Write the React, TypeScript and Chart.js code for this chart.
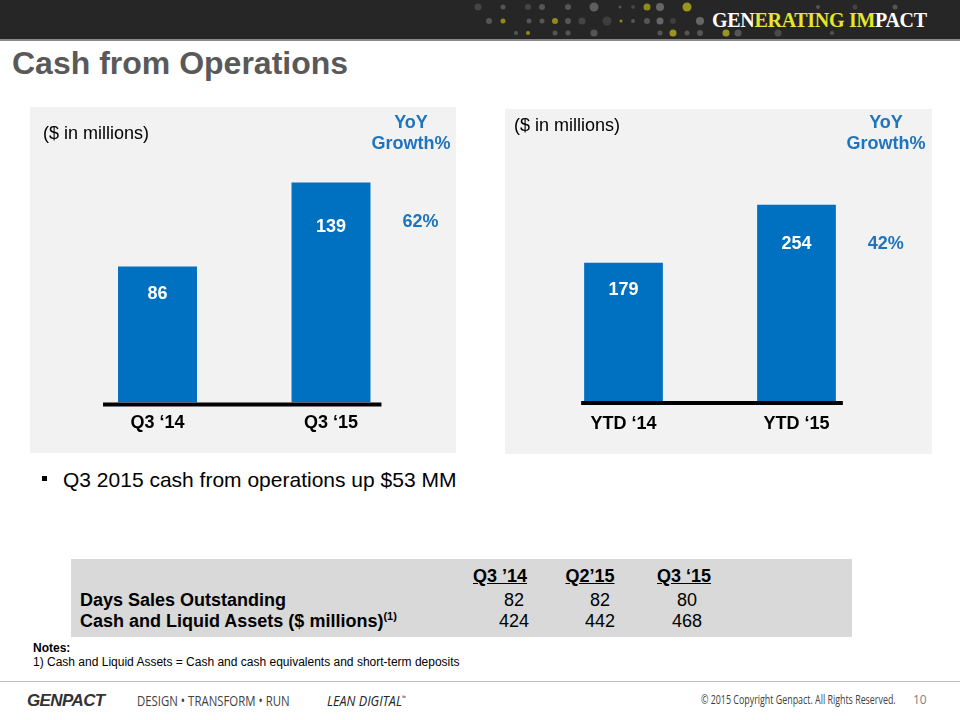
import React, { useEffect, useRef } from "react";
import { Chart, registerables } from "chart.js";

Chart.register(...registerables);

// ---------- data ----------
const quarterLabels = ["Q3 ‘14", "Q3 ‘15"];
const quarterCash = [86, 139];
const quarterGrowth = "62%";

const ytdLabels = ["YTD ‘14", "YTD ‘15"];
const ytdCash = [179, 254];
const ytdGrowth = "42%";

const tableColumns = ["Q3 ’14", "Q2’15", "Q3 ‘15"];
const daysSalesOutstanding = [82, 82, 80];
const cashLiquidAssets = [424, 442, 468];

// ---------- style ----------
const BLUE = "#0070C0";
const TEXT_BLUE = "#1F74BE";
const FONT = "'Liberation Sans', Arial, Helvetica, sans-serif";

const barDecorPlugin = {
  id: "barDecor",
  afterDatasetsDraw(chart: any, _args: any, opts: any) {
    const { ctx } = chart;
    const meta = chart.getDatasetMeta(0);
    const bars = meta.data;
    if (!bars.length) return;
    const zeroY = chart.scales.y.getPixelForValue(0);
    const first = bars[0];
    const last = bars[bars.length - 1];
    ctx.save();
    ctx.strokeStyle = "#000";
    ctx.lineWidth = 4;
    ctx.beginPath();
    ctx.moveTo(first.x - first.width / 2 - opts.extendLeft, zeroY + 2);
    ctx.lineTo(last.x + last.width / 2 + opts.extendRight, zeroY + 2);
    ctx.stroke();

    ctx.font = `bold 18px ${FONT}`;
    ctx.textAlign = "center";
    ctx.textBaseline = "middle";
    ctx.fillStyle = "#ffffff";
    const values = chart.data.datasets[0].data;
    bars.forEach((bar: any, i: number) => {
      const h = bar.base - bar.y;
      ctx.fillText(String(values[i]), bar.x, bar.y + h * 0.2);
    });
    ctx.fillStyle = TEXT_BLUE;
    ctx.fillText(opts.growth, last.x + last.width / 2 + 50, last.y + 39);
    ctx.restore();
  },
};

type BarPanelProps = {
  labels: string[];
  values: number[];
  growth: string;
  width: number;
  height: number;
  yMax: number;
  padding: { left: number; right: number; top: number; bottom: number };
  tickPadding: number;
  extendLeft: number;
  extendRight: number;
};

function BarPanel(p: BarPanelProps) {
  const ref = useRef<HTMLCanvasElement | null>(null);
  useEffect(() => {
    if (!ref.current) return;
    const chart = new Chart(ref.current, {
      type: "bar",
      data: {
        labels: p.labels,
        datasets: [
          {
            data: p.values,
            backgroundColor: BLUE,
            borderWidth: 0,
            barPercentage: 0.455,
            categoryPercentage: 1,
          },
        ],
      },
      options: {
        responsive: false,
        animation: false,
        devicePixelRatio: 1,
        layout: { padding: p.padding },
        plugins: {
          legend: { display: false },
          tooltip: { enabled: false },
          barDecor: {
            growth: p.growth,
            extendLeft: p.extendLeft,
            extendRight: p.extendRight,
          },
        } as any,
        scales: {
          x: {
            grid: { display: false, drawTicks: false },
            border: { display: false },
            ticks: {
              color: "#000",
              padding: p.tickPadding,
              font: { family: FONT, size: 18, weight: "bold" },
              maxRotation: 0,
              autoSkip: false,
            },
          },
          y: {
            display: false,
            min: 0,
            max: p.yMax,
          },
        },
      },
      plugins: [barDecorPlugin],
    });
    return () => chart.destroy();
  }, []);
  return (
    <canvas
      ref={ref}
      width={p.width}
      height={p.height}
      style={{ position: "absolute", left: 0, top: 0, width: p.width, height: p.height }}
    />
  );
}

const abs = (style: React.CSSProperties): React.CSSProperties => ({
  position: "absolute",
  whiteSpace: "nowrap",
  ...style,
});

const headerDots: [number, number, number, string][] = [
  [478, 7, 3.5, "#444"], [503, 7, 2.5, "#555"], [528, 7, 3, "#444"], [542, 7, 3, "#555"],
  [568, 7, 3, "#555"], [594, 7, 4.5, "#5e5e5e"], [620, 7, 1.5, "#555"], [633, 7, 2, "#444"],
  [647, 7, 3.5, "#8f8a1c"], [660, 7, 4, "#666"], [687, 7, 4.5, "#9a951c"], [818, 7, 2, "#555"],
  [855, 7, 2.5, "#444"], [895, 7, 2.5, "#555"],
  [489, 21, 3, "#555"], [503, 21, 2.5, "#8f8a1c"], [529, 21, 2.5, "#555"], [542, 21, 2.5, "#555"],
  [555, 21, 3, "#8f8a1c"], [568, 21, 3, "#555"], [582, 21, 3.5, "#444"], [607, 21, 4.5, "#3e3e3e"],
  [621, 21, 1.5, "#8f8a1c"], [633, 21, 2, "#555"], [647, 21, 3, "#555"], [660, 21, 3.5, "#666"],
  [673, 21, 3, "#3e3e3e"], [700, 21, 4, "#666"],
  [516, 33, 2, "#555"], [528, 33, 2, "#8f8a1c"], [555, 33, 2.5, "#555"], [568, 33, 2.5, "#555"],
  [594, 33, 3.5, "#555"], [660, 33, 2.5, "#555"], [673, 33, 3.5, "#9a951c"], [687, 33, 2.5, "#555"],
  [700, 33, 3, "#555"], [726, 33, 3.5, "#9a951c"], [738, 33, 3.5, "#555"], [778, 33, 3.5, "#4a4a4a"],
  [832, 33, 2, "#555"],
];

export default function App() {
  const tableColCenters = [500, 590, 684];
  const tableValCenters = [514, 600, 687];
  return (
    <div
      style={{
        position: "absolute",
        left: 0,
        top: 0,
        width: 960,
        height: 720,
        overflow: "hidden",
        background: "#ffffff",
        fontFamily: FONT,
        color: "#000",
      }}
    >
      {/* header bar */}
      <div style={abs({ left: 0, top: 0, width: 960, height: 39, background: "#262626", borderBottom: "2px solid #8a8a8a" })} />
      <svg width={960} height={40} style={{ position: "absolute", left: 0, top: 0 }}>
        {headerDots.map(([x, y, r, c], i) => (
          <circle key={i} cx={x} cy={y} r={r} fill={c} />
        ))}
      </svg>
      <div
        style={abs({
          left: 712,
          top: 10,
          fontFamily: "'Liberation Serif', 'DejaVu Serif', serif",
          fontWeight: "bold",
          fontSize: 20,
          lineHeight: "20px",
          color: "#ffffff",
          letterSpacing: -0.3,
        })}
      >
        GEN<span style={{ color: "#E8E52A" }}>ERATING</span> <span style={{ color: "#E8E52A" }}>IM</span>PACT
      </div>

      {/* title */}
      <div style={abs({ left: 12, top: 47, fontSize: 32, lineHeight: "32px", fontWeight: "bold", color: "#595959" })}>
        Cash from Operations
      </div>

      {/* left panel */}
      <div style={abs({ left: 30, top: 107, width: 426, height: 346, background: "#F2F2F2" })}>
        <BarPanel
          labels={quarterLabels}
          values={quarterCash}
          growth={quarterGrowth}
          width={426}
          height={346}
          yMax={160}
          padding={{ left: 40.75, right: 38.25, top: 42.4, bottom: 8.9 }}
          tickPadding={10}
          extendLeft={15}
          extendRight={11}
        />
        <div style={abs({ left: 13, top: 17, fontSize: 18, lineHeight: "18px" })}>($ in millions)</div>
        <div
          style={abs({
            left: 321,
            top: 5,
            width: 120,
            textAlign: "center",
            fontSize: 18,
            lineHeight: "21px",
            fontWeight: "bold",
            color: TEXT_BLUE,
          })}
        >
          YoY
          <br />
          Growth%
        </div>
      </div>

      {/* right panel */}
      <div style={abs({ left: 505, top: 109, width: 427, height: 345, background: "#F2F2F2" })}>
        <BarPanel
          labels={ytdLabels}
          values={ytdCash}
          growth={ytdGrowth}
          width={427}
          height={345}
          yMax={326}
          padding={{ left: 32, right: 49, top: 40, bottom: 7.4 }}
          tickPadding={12}
          extendLeft={3}
          extendRight={7}
        />
        <div style={abs({ left: 9, top: 7, fontSize: 18, lineHeight: "18px" })}>($ in millions)</div>
        <div
          style={abs({
            left: 321,
            top: 3,
            width: 120,
            textAlign: "center",
            fontSize: 18,
            lineHeight: "21px",
            fontWeight: "bold",
            color: TEXT_BLUE,
          })}
        >
          YoY
          <br />
          Growth%
        </div>
      </div>

      {/* bullet */}
      <div style={abs({ left: 42, top: 476, width: 5, height: 5, background: "#000" })} />
      <div style={abs({ left: 63, top: 468.5, fontSize: 21, lineHeight: "21px" })}>
        Q3 2015 cash from operations up $53 MM
      </div>

      {/* table */}
      <div style={abs({ left: 71, top: 559, width: 781, height: 78, background: "#D9D9D9" })} />
      {tableColumns.map((c, i) => (
        <div
          key={c}
          style={abs({
            left: tableColCenters[i] - 50,
            width: 100,
            textAlign: "center",
            top: 567,
            fontSize: 18,
            lineHeight: "18px",
            fontWeight: "bold",
            textDecoration: "underline",
          })}
        >
          {c}
        </div>
      ))}
      <div style={abs({ left: 80, top: 591, fontSize: 18, lineHeight: "18px", fontWeight: "bold" })}>
        Days Sales Outstanding
      </div>
      <div style={abs({ left: 80, top: 612, fontSize: 18, lineHeight: "18px", fontWeight: "bold" })}>
        Cash and Liquid Assets ($ millions)
        <sup style={{ fontSize: 11, verticalAlign: "7px", lineHeight: 0 }}>(1)</sup>
      </div>
      {daysSalesOutstanding.map((v, i) => (
        <div
          key={"d" + i}
          style={abs({ left: tableValCenters[i] - 40, width: 80, textAlign: "center", top: 591, fontSize: 18, lineHeight: "18px" })}
        >
          {v}
        </div>
      ))}
      {cashLiquidAssets.map((v, i) => (
        <div
          key={"c" + i}
          style={abs({ left: tableValCenters[i] - 40, width: 80, textAlign: "center", top: 612, fontSize: 18, lineHeight: "18px" })}
        >
          {v}
        </div>
      ))}

      {/* notes */}
      <div style={abs({ left: 33, top: 642, fontSize: 12, lineHeight: "12px", fontWeight: "bold" })}>Notes:</div>
      <div style={abs({ left: 33, top: 656, fontSize: 12, lineHeight: "12px" })}>
        1) Cash and Liquid Assets = Cash and cash equivalents and short-term deposits
      </div>

      {/* footer */}
      <div style={abs({ left: 0, top: 681, width: 960, height: 1, background: "#BFBFBF" })} />
      <div
        style={abs({
          left: 27,
          top: 692,
          fontSize: 17,
          lineHeight: "17px",
          fontWeight: "bold",
          fontStyle: "italic",
          color: "#333",
          letterSpacing: -0.6,
        })}
      >
        GENPACT
      </div>
      <div
        style={abs({
          left: 137,
          top: 692,
          fontFamily: "'Open Sans', sans-serif",
          fontSize: 15,
          lineHeight: "17px",
          color: "#404040",
          transform: "scaleX(0.76)",
          transformOrigin: "left center",
        })}
      >
        DESIGN • TRANSFORM • RUN
      </div>
      <div
        style={abs({
          left: 327,
          top: 692,
          fontFamily: "'Open Sans', sans-serif",
          fontSize: 15,
          lineHeight: "17px",
          fontStyle: "italic",
          color: "#262626",
          transform: "scaleX(0.84)",
          transformOrigin: "left center",
        })}
      >
        LEAN DIGITAL<sup style={{ fontSize: 6, verticalAlign: "6px", lineHeight: 0 }}>™</sup>
      </div>
      <div
        style={abs({
          left: 701,
          top: 694,
          fontFamily: "'Open Sans', sans-serif",
          fontSize: 12,
          lineHeight: "12px",
          color: "#404040",
          transform: "scaleX(0.74)",
          transformOrigin: "left center",
        })}
      >
        © 2015 Copyright Genpact. All Rights Reserved.
      </div>
      <div
        style={abs({
          left: 913,
          top: 694,
          fontFamily: "'Open Sans', sans-serif",
          fontSize: 12,
          lineHeight: "12px",
          color: "#7f7f7f",
        })}
      >
        10
      </div>
    </div>
  );
}
